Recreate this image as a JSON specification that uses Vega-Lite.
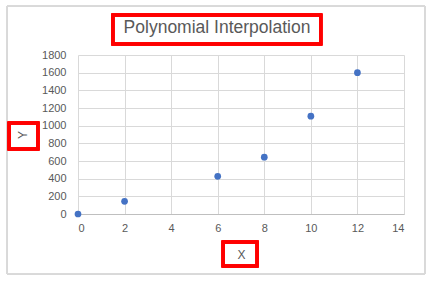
{
  "$schema": "https://vega.github.io/schema/vega-lite/v6.json",
  "autosize": "none",
  "padding": {"left": 78, "top": 55, "right": 29, "bottom": 69},
  "width": 326,
  "height": 159,
  "background": "white",
  "title": {
    "text": "Polynomial Interpolation",
    "font": "Liberation Sans",
    "fontSize": 17.5,
    "fontWeight": "normal",
    "color": "#595959",
    "anchor": "middle",
    "baseline": "alphabetic",
    "offset": -45.5,
    "dx": -24
  },
  "config": {
    "view": {"stroke": null},
    "axis": {
      "labelFont": "Liberation Sans",
      "labelFontSize": 11,
      "labelColor": "#595959",
      "labelOverlap": false,
      "titleFont": "Liberation Sans",
      "titleFontSize": 12,
      "titleFontWeight": "normal",
      "titleColor": "#595959",
      "ticks": false,
      "gridColor": "#d9d9d9",
      "gridWidth": 1,
      "domainColor": "#bfbfbf"
    }
  },
  "data": {
    "values": [
      {"X": 0, "Y": 0},
      {"X": 2, "Y": 144},
      {"X": 6, "Y": 427},
      {"X": 8, "Y": 643},
      {"X": 10, "Y": 1108},
      {"X": 12, "Y": 1600}
    ]
  },
  "layer": [
    {
      "mark": {"type": "point", "filled": true, "size": 45, "color": "#4472C4", "opacity": 1},
      "encoding": {
        "x": {
          "field": "X", "type": "quantitative",
          "scale": {"domain": [0, 14], "nice": false, "zero": true},
          "axis": {"values": [0, 2, 4, 6, 8, 10, 12, 14], "format": "d", "labelPadding": 8, "title": "X", "titlePadding": 16}
        },
        "y": {
          "field": "Y", "type": "quantitative",
          "scale": {"domain": [0, 1800], "nice": false},
          "axis": {"values": [0, 200, 400, 600, 800, 1000, 1200, 1400, 1600, 1800], "format": "d", "domain": false, "labelPadding": 12, "title": "Y", "titlePadding": 12}
        }
      }
    },
    {
      "mark": {"type": "rect", "fill": null, "stroke": "#d9d9d9", "strokeWidth": 1, "clip": false},
      "encoding": {
        "x": {"datum": -3.05, "type": "quantitative", "axis": {"values": [0, 2, 4, 6, 8, 10, 12, 14], "format": "d", "labelPadding": 8, "title": "X", "titlePadding": 16}},
        "x2": {"datum": 14.9},
        "y": {"datum": 2355, "type": "quantitative", "axis": {"values": [0, 200, 400, 600, 800, 1000, 1200, 1400, 1600, 1800], "format": "d", "domain": false, "labelPadding": 12, "title": "Y", "titlePadding": 12}},
        "y2": {"datum": -679}
      }
    },
    {
      "mark": {"type": "rect", "fill": null, "stroke": "#ff0000", "strokeWidth": 3, "clip": false},
      "encoding": {
        "x": {"datum": 1.5, "type": "quantitative", "axis": {"values": [0, 2, 4, 6, 8, 10, 12, 14], "format": "d", "labelPadding": 8, "title": "X", "titlePadding": 16}},
        "x2": {"datum": 10.43},
        "y": {"datum": 2253, "type": "quantitative", "axis": {"values": [0, 200, 400, 600, 800, 1000, 1200, 1400, 1600, 1800], "format": "d", "domain": false, "labelPadding": 12, "title": "Y", "titlePadding": 12}},
        "y2": {"datum": 1925}
      }
    },
    {
      "mark": {"type": "rect", "fill": null, "stroke": "#ff0000", "strokeWidth": 3, "clip": false},
      "encoding": {
        "x": {"datum": -2.96, "type": "quantitative", "axis": {"values": [0, 2, 4, 6, 8, 10, 12, 14], "format": "d", "labelPadding": 8, "title": "X", "titlePadding": 16}},
        "x2": {"datum": -1.72},
        "y": {"datum": 1030, "type": "quantitative", "axis": {"values": [0, 200, 400, 600, 800, 1000, 1200, 1400, 1600, 1800], "format": "d", "domain": false, "labelPadding": 12, "title": "Y", "titlePadding": 12}},
        "y2": {"datum": 736}
      }
    },
    {
      "mark": {"type": "rect", "fill": null, "stroke": "#ff0000", "strokeWidth": 3, "clip": false},
      "encoding": {
        "x": {"datum": 6.23, "type": "quantitative", "axis": {"values": [0, 2, 4, 6, 8, 10, 12, 14], "format": "d", "labelPadding": 8, "title": "X", "titlePadding": 16}},
        "x2": {"datum": 7.69},
        "y": {"datum": -317, "type": "quantitative", "axis": {"values": [0, 200, 400, 600, 800, 1000, 1200, 1400, 1600, 1800], "format": "d", "domain": false, "labelPadding": 12, "title": "Y", "titlePadding": 12}},
        "y2": {"datum": -589}
      }
    }
  ]
}
